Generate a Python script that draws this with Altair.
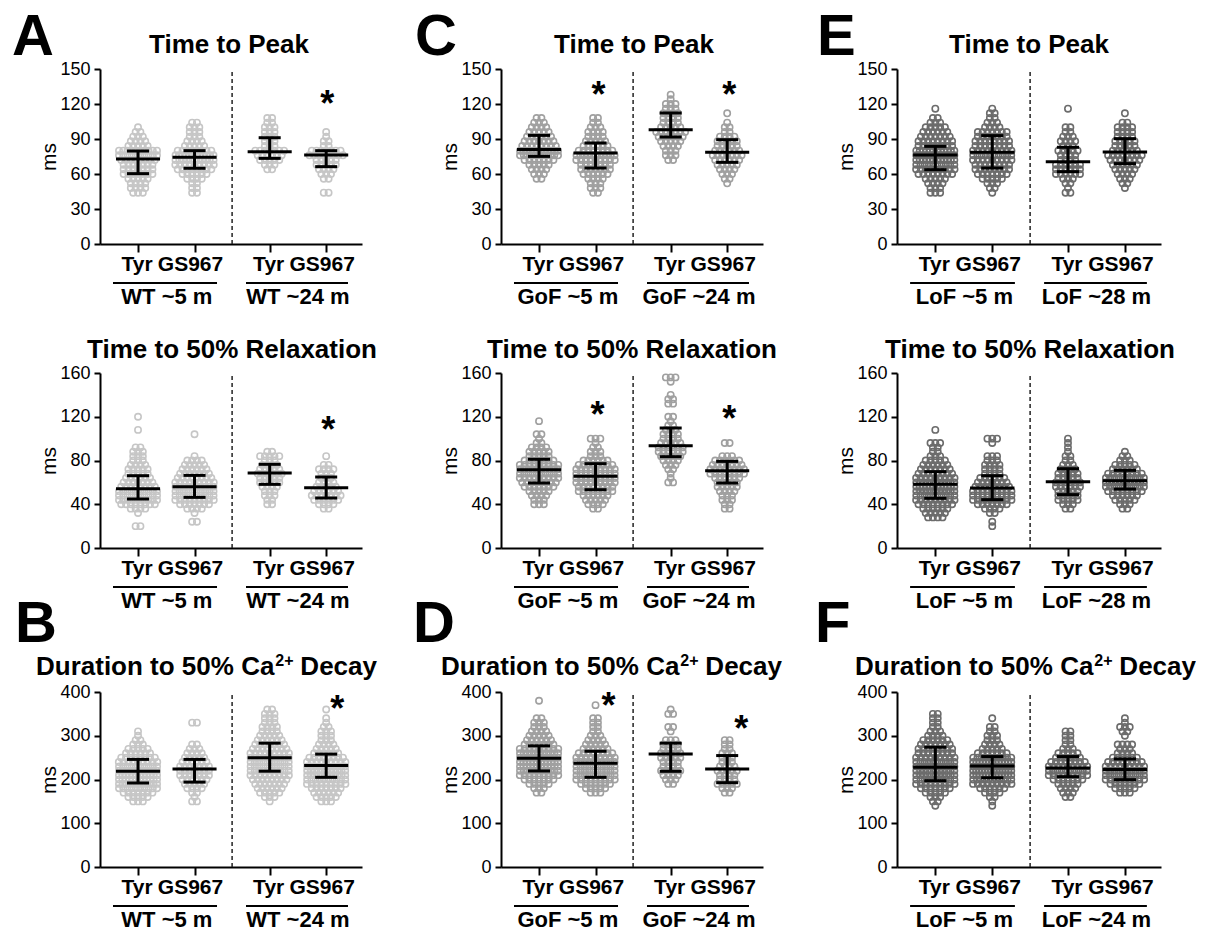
import altair as alt
import pandas as pd

FONT = "Liberation Sans"

# ---------------------------------------------------------------------------
# Data. Group order in every list: Tyr (young), GS967 (young), Tyr (old), GS967 (old).
# *_COUNTS: number of cells in each row of the dot plot; rows are spaced by the
# panel's step (4 ms for the twitch panels, 10 ms for Ca2+ decay) and the first
# row of each group sits at the matching *_START value.
# *_MED / *_Q1 / *_Q3: median and interquartile range drawn as error bars.
# ---------------------------------------------------------------------------

# WT, Time to Peak
WT_TTP_START = [44, 44, 64, 44]
WT_TTP_COUNTS = [
    [3, 4, 4, 5, 7, 7, 7, 8, 10, 10, 5, 4, 3, 2, 1],
    [2, 2, 2, 4, 6, 8, 9, 11, 12, 8, 5, 4, 3, 3, 3, 2],
    [2, 3, 5, 6, 7, 3, 3, 3, 3, 3, 2, 2],
    [2, 0, 0, 2, 3, 4, 5, 5, 8, 7, 2, 2, 1, 1],
]
WT_TTP_MED = [72.9, 74.3, 79.1, 76.3]
WT_TTP_Q1 = [60.3, 64.9, 73.4, 66.3]
WT_TTP_Q3 = [79.7, 80.0, 91.1, 80.0]
WT_TTP_STAR_GROUP = [3]
WT_TTP_STAR_AT = [126]

# WT, Time to 50% Relaxation
WT_RLX_START = [20, 24, 40, 36]
WT_RLX_COUNTS = [
    [2, 0, 0, 1, 4, 8, 10, 10, 10, 8, 7, 6, 5, 5, 4, 3, 3, 3, 2, 0, 0, 0, 1, 0, 0, 1],
    [2, 0, 1, 4, 7, 9, 10, 10, 10, 9, 8, 7, 6, 5, 4, 1, 0, 0, 0, 0, 1],
    [2, 2, 3, 3, 4, 5, 5, 6, 5, 4, 3, 5, 2],
    [2, 4, 6, 7, 6, 5, 4, 3, 3, 4, 2, 0, 1],
]
WT_RLX_MED = [54.2, 56.1, 68.6, 55.2]
WT_RLX_Q1 = [44.8, 46.3, 58.2, 45.7]
WT_RLX_Q3 = [66.1, 66.4, 76.5, 64.9]
WT_RLX_STAR_GROUP = [3]
WT_RLX_STAR_AT = [114]

# WT, Duration to 50% Ca2+ decay
WT_CA_START = [150, 150, 150, 150]
WT_CA_COUNTS = [
    [3, 5, 7, 10, 11, 12, 12, 11, 10, 9, 8, 6, 5, 3, 2, 1, 1],
    [2, 1, 2, 4, 5, 6, 7, 7, 7, 6, 5, 4, 3, 2, 0, 0, 0, 0, 2],
    [1, 3, 5, 6, 7, 8, 9, 10, 10, 10, 10, 9, 8, 7, 6, 5, 4, 4, 3, 3, 3, 2],
    [3, 5, 6, 7, 9, 10, 11, 11, 10, 9, 8, 6, 5, 4, 3, 3, 3, 2, 1, 1, 0, 1],
]
WT_CA_MED = [219, 224, 250, 232]
WT_CA_Q1 = [192, 194, 219, 205]
WT_CA_Q3 = [246, 246, 283, 258]
WT_CA_STAR_GROUP = [3]
WT_CA_STAR_AT = [377]

# GoF, Time to Peak
GOF_TTP_START = [56, 44, 72, 52]
GOF_TTP_COUNTS = [
    [2, 3, 4, 5, 7, 11, 12, 8, 7, 6, 5, 4, 3, 2],
    [2, 3, 3, 4, 6, 7, 7, 9, 11, 8, 6, 5, 4, 4, 3, 2, 2],
    [2, 3, 3, 4, 5, 6, 7, 5, 4, 4, 4, 3, 3, 1, 1],
    [1, 2, 3, 4, 5, 6, 7, 6, 5, 5, 4, 2, 2, 1, 0, 1],
]
GOF_TTP_MED = [80.9, 78.0, 98.0, 78.6]
GOF_TTP_Q1 = [75.1, 65.1, 91.7, 70.0]
GOF_TTP_Q3 = [93.1, 86.6, 112.3, 89.4]
GOF_TTP_STAR_GROUP = [1, 3]
GOF_TTP_STAR_AT = [134, 134]

# GoF, Time to 50% Relaxation
GOF_RLX_START = [40, 36, 60, 36]
GOF_RLX_COUNTS = [
    [3, 3, 4, 5, 7, 8, 9, 10, 10, 9, 7, 5, 5, 4, 2, 1, 2, 0, 0, 1],
    [2, 4, 5, 6, 8, 8, 9, 9, 9, 9, 8, 6, 3, 3, 2, 1, 3],
    [2, 1, 1, 2, 3, 4, 5, 6, 6, 5, 4, 4, 3, 2, 1, 2, 0, 0, 2, 2, 1, 0, 0, 1, 3],
    [2, 2, 3, 3, 4, 5, 5, 6, 8, 8, 7, 6, 3, 0, 0, 2],
]
GOF_RLX_MED = [71.6, 65.5, 93.6, 70.7]
GOF_RLX_Q1 = [59.4, 53.3, 83.5, 59.4]
GOF_RLX_Q3 = [81.1, 77.1, 109.7, 79.2]
GOF_RLX_STAR_GROUP = [1, 3]
GOF_RLX_STAR_AT = [128, 124]

# GoF, Duration to 50% Ca2+ decay
GOF_CA_START = [170, 170, 190, 170]
GOF_CA_COUNTS = [
    [2, 3, 5, 7, 9, 11, 12, 12, 12, 11, 9, 7, 6, 5, 4, 3, 3, 2, 0, 0, 0, 1],
    [3, 5, 7, 9, 10, 10, 10, 10, 9, 8, 6, 5, 4, 3, 2, 2, 2, 2, 0, 0, 1],
    [2, 3, 4, 5, 4, 4, 5, 5, 4, 4, 3, 0, 1, 2, 0, 0, 2, 1],
    [2, 3, 5, 4, 4, 5, 4, 3, 3, 3, 2, 2, 2],
]
GOF_CA_MED = [248.6, 237.0, 258.5, 224.0]
GOF_CA_Q1 = [219.5, 205.0, 218.7, 192.7]
GOF_CA_Q3 = [277.0, 264.6, 283.0, 254.7]
GOF_CA_STAR_GROUP = [1, 3]
GOF_CA_STAR_AT = [384, 331]

# LoF, Time to Peak
LOF_TTP_START = [44, 44, 44, 48]
LOF_TTP_COUNTS = [
    [3, 3, 4, 5, 8, 9, 10, 12, 14, 12, 8, 8, 7, 6, 5, 3, 2, 0, 1],
    [1, 2, 3, 5, 7, 8, 8, 9, 10, 9, 8, 8, 7, 7, 4, 3, 2, 2, 1],
    [2, 1, 2, 3, 6, 6, 6, 4, 4, 5, 3, 4, 3, 2, 2, 0, 0, 0, 1],
    [1, 2, 3, 4, 5, 6, 7, 8, 6, 5, 5, 4, 4, 4, 2, 0, 1],
]
LOF_TTP_MED = [76.3, 78.6, 70.6, 78.9]
LOF_TTP_Q1 = [63.7, 65.1, 62.0, 68.9]
LOF_TTP_Q3 = [83.7, 92.9, 82.9, 90.3]

# LoF, Time to 50% Relaxation
LOF_RLX_START = [28, 20, 36, 36]
LOF_RLX_COUNTS = [
    [4, 5, 6, 8, 9, 10, 11, 12, 11, 9, 8, 7, 6, 5, 3, 2, 2, 3, 0, 0, 1],
    [1, 1, 0, 2, 4, 7, 9, 9, 9, 8, 7, 6, 4, 4, 4, 3, 3, 0, 0, 1, 3],
    [2, 3, 5, 5, 5, 6, 6, 5, 5, 4, 3, 2, 2, 1, 1, 1, 1],
    [2, 3, 5, 6, 8, 10, 11, 10, 8, 6, 5, 3, 2, 1],
]
LOF_RLX_MED = [58.2, 54.9, 60.6, 61.6]
LOF_RLX_Q1 = [45.4, 44.2, 48.8, 53.9]
LOF_RLX_Q3 = [69.8, 66.1, 72.5, 71.0]

# LoF, Duration to 50% Ca2+ decay
LOF_CA_START = [140, 140, 160, 170]
LOF_CA_COUNTS = [
    [1, 2, 3, 5, 7, 9, 10, 11, 11, 11, 10, 9, 8, 8, 7, 6, 4, 3, 2, 2, 2, 2],
    [1, 1, 2, 4, 6, 9, 11, 13, 14, 14, 13, 10, 7, 5, 4, 3, 3, 2, 2, 0, 1],
    [2, 3, 4, 5, 7, 9, 10, 9, 8, 6, 5, 3, 2, 2, 2, 2],
    [3, 5, 7, 9, 10, 10, 9, 8, 6, 4, 3, 4, 0, 1, 2, 3, 1, 1],
]
LOF_CA_MED = [228.0, 231.0, 226.4, 222.6]
LOF_CA_Q1 = [197.3, 204.0, 206.5, 199.6]
LOF_CA_Q3 = [273.8, 252.4, 252.4, 247.0]

TICK_TEXT = ["Tyr", "GS967", "Tyr", "GS967"]
COHORTS = [
    ["WT ~5 m", "WT ~24 m"],
    ["GoF ~5 m", "GoF ~24 m"],
    ["LoF ~5 m", "LoF ~28 m"],
]
COHORTS_CA_LOF = ["LoF ~5 m", "LoF ~24 m"]
ROW_TITLES = ["Time to Peak", "Time to 50% Relaxation"]
ROW_YMAX = [150, 160, 400]
ROW_TICKS = [[0, 30, 60, 90, 120, 150], [0, 40, 80, 120, 160], [0, 100, 200, 300, 400]]
ROW_STEP = [4, 4, 10]

# ---------------------------------------------------------------------------
# Layout (pixels inside each grid cell) and styling
# ---------------------------------------------------------------------------
GROUP_X = [1.0, 2.0, 3.33, 4.33]
X_DOMAIN = [0.327, 4.964]
SPLIT_X = 2.665
PAIR_MID = [1.51, 3.83]
PAIR_SPAN = [(0.557, 2.398), (2.911, 4.716)]
TICK_NUDGE = [-1, -4, -1, -4]

CELL_W, CELL_H = 262, 190
COL_AXIS_X = [0, 0, -5]
COL_AXIS_W = [262, 262, 264]
COL_YAXIS_OFFSET = [0, 0, 5]
ROW_AXIS_TOP = [30, 15, 15]
ROW_AXIS_BOTTOM = [205, 190, 190]
ROW_XAXIS_OFFSET = [15, 0, 0]
COL_DOT = ["#c6c6c6", "#a0a0a0", "#6c6c6c"]

TITLE_CENTER = [[129, 133, 132], [132, 131, 133]]
TITLE_BASE = [-16, -15, -17]
CA_TITLE_LEFT = [-64, -60, -42]
LETTERS = {(0, 0): ("A", -88), (0, 1): ("C", -86), (0, 2): ("E", -80),
           (2, 0): ("B", -85), (2, 1): ("D", -88), (2, 2): ("F", -82)}
LETTER_BASE = {0: -14, 2: -50}
STAR_NUDGE = {(0, 0): [1], (1, 0): [2], (2, 0): [11],
              (0, 1): [3, 2], (1, 1): [2, 2], (2, 1): [13, 14]}


def swarm(starts, counts, step, px_unit):
    recs = []
    for g, (s, cs) in enumerate(zip(starts, counts)):
        for i, n in enumerate(cs):
            gap = 4.8 if n <= 9 else 38.0 / (n - 1)
            for k in range(n):
                recs.append({"x": GROUP_X[g] + (k - (n - 1) / 2) * gap / px_unit,
                             "y": s + i * step})
    return pd.DataFrame(recs)


def text_at(txt, x, y, size, weight="bold", align="center", baseline="alphabetic"):
    return alt.Chart(pd.DataFrame({"t": [txt]})).mark_text(
        font=FONT, fontSize=size, fontWeight=weight, align=align,
        baseline=baseline, color="black"
    ).encode(x=alt.value(x), y=alt.value(y), text="t:N")


def panel(row, col, starts, counts, med, q1, q3, star_groups=(), star_at=()):
    ox = COL_AXIS_X[col]
    w = COL_AXIS_W[col]
    ytop, ybot = ROW_AXIS_TOP[row], ROW_AXIS_BOTTOM[row]
    px_unit = w / (X_DOMAIN[1] - X_DOMAIN[0])
    ymax = ROW_YMAX[row]

    xs = alt.Scale(domain=X_DOMAIN, range=[ox, ox + w], nice=False, zero=False)
    ys = alt.Scale(domain=[0, ymax], range=[ybot, ytop], nice=False, zero=False)
    xaxis = alt.Axis(values=GROUP_X, labels=False, title=None, grid=False,
                     tickSize=8, tickWidth=2, tickColor="black",
                     domainColor="black", domainWidth=2,
                     offset=ROW_XAXIS_OFFSET[row])
    yaxis = alt.Axis(values=ROW_TICKS[row], title="ms", grid=False,
                     titleFont=FONT, titleFontSize=21, titleFontWeight="normal",
                     titleColor="black", titlePadding=0,
                     labelFont=FONT, labelFontSize=18, labelColor="black",
                     labelPadding=4, tickSize=6, tickWidth=2, tickColor="black",
                     domainColor="black", domainWidth=2,
                     offset=COL_YAXIS_OFFSET[col])

    def X(f):
        return alt.X(f, type="quantitative", scale=xs, axis=xaxis)

    def Y(f):
        return alt.Y(f, type="quantitative", scale=ys, axis=yaxis)

    pts = alt.Chart(swarm(starts, counts, ROW_STEP[row], px_unit)).mark_point(
        shape="circle", filled=False, size=40, strokeWidth=1.6,
        color=COL_DOT[col], opacity=1
    ).encode(x=X("x"), y=Y("y"))

    summ = alt.Chart(pd.DataFrame({"x": GROUP_X, "med": med, "q1": q1, "q3": q3}))
    bar_style = dict(color="black", strokeWidth=3)
    whisk = summ.mark_rule(**bar_style).encode(x=X("x"), y=Y("q1"), y2="q3:Q")
    caps = summ.transform_calculate(a="datum.x - 0.195", b="datum.x + 0.195")
    cap_lo = caps.mark_rule(**bar_style).encode(x=X("a"), x2="b:Q", y=Y("q1"))
    cap_hi = caps.mark_rule(**bar_style).encode(x=X("a"), x2="b:Q", y=Y("q3"))
    mline = summ.transform_calculate(a="datum.x - 0.39", b="datum.x + 0.39").mark_rule(
        **bar_style).encode(x=X("a"), x2="b:Q", y=Y("med"))

    split = alt.Chart(pd.DataFrame({"x": [SPLIT_X], "y0": [0], "y1": [ymax]})).mark_rule(
        color="#222222", strokeWidth=1.5, strokeDash=[4, 3]
    ).encode(x=X("x"), y=Y("y0"), y2="y1:Q")

    ticks = alt.Chart(pd.DataFrame({
        "x": [gx + n / px_unit for gx, n in zip(GROUP_X, TICK_NUDGE)],
        "t": TICK_TEXT})).mark_text(
        font=FONT, fontSize=21, fontWeight="bold", baseline="middle", color="black"
    ).encode(x=X("x"), y=alt.value(ybot + 21), text="t:N")

    cohorts = COHORTS[col] if not (row == 2 and col == 2) else COHORTS_CA_LOF
    under = alt.Chart(pd.DataFrame({"a": [p[0] for p in PAIR_SPAN],
                                    "b": [p[1] for p in PAIR_SPAN]})).mark_rule(
        color="black", strokeWidth=2).encode(x=X("a"), x2="b:Q", y=alt.value(ybot + 39))
    coh = alt.Chart(pd.DataFrame({"x": PAIR_MID, "t": cohorts})).mark_text(
        font=FONT, fontSize=22, fontWeight="bold", baseline="middle", color="black"
    ).encode(x=X("x"), y=alt.value(ybot + 53), text="t:N")

    layers = [pts, whisk, cap_lo, cap_hi, mline, split, ticks, under, coh]

    if star_groups:
        nudge = STAR_NUDGE[(row, col)]
        stars = alt.Chart(pd.DataFrame({
            "x": [GROUP_X[g] + n / px_unit for g, n in zip(star_groups, nudge)],
            "y": list(star_at)})).mark_text(
            text="*", font=FONT, fontSize=36, fontWeight="bold",
            baseline="alphabetic", dy=19, color="black"
        ).encode(x=X("x"), y=Y("y"))
        layers.append(stars)

    tb = ytop + TITLE_BASE[row]
    if row < 2:
        layers.append(text_at(ROW_TITLES[row], ox + TITLE_CENTER[row][col], tb, 26))
    else:
        left = ox + CA_TITLE_LEFT[col]
        main_w = 9.168 * 26
        layers.append(text_at("Duration to 50% Ca", left, tb, 26, align="left"))
        layers.append(text_at("2+", left + main_w + 1, tb - 9, 16, align="left"))
        layers.append(text_at("Decay", left + main_w + 1 + 18 + 7, tb, 26, align="left"))

    if (row, col) in LETTERS:
        letter, lx = LETTERS[(row, col)]
        layers.append(text_at(letter, ox + lx, ytop + LETTER_BASE[row], 58, align="left"))

    if row == 0 and col == 0:
        anchor = alt.Chart(pd.DataFrame({"k": [0]})).mark_rule(opacity=0).encode(
            x=alt.value(-100), x2=alt.value(-100), y=alt.value(-39), y2=alt.value(-39))
        layers.append(anchor)

    return alt.layer(*layers).properties(width=CELL_W, height=CELL_H)


panels = [
    panel(0, 0, WT_TTP_START, WT_TTP_COUNTS, WT_TTP_MED, WT_TTP_Q1, WT_TTP_Q3,
          WT_TTP_STAR_GROUP, WT_TTP_STAR_AT),
    panel(0, 1, GOF_TTP_START, GOF_TTP_COUNTS, GOF_TTP_MED, GOF_TTP_Q1, GOF_TTP_Q3,
          GOF_TTP_STAR_GROUP, GOF_TTP_STAR_AT),
    panel(0, 2, LOF_TTP_START, LOF_TTP_COUNTS, LOF_TTP_MED, LOF_TTP_Q1, LOF_TTP_Q3),
    panel(1, 0, WT_RLX_START, WT_RLX_COUNTS, WT_RLX_MED, WT_RLX_Q1, WT_RLX_Q3,
          WT_RLX_STAR_GROUP, WT_RLX_STAR_AT),
    panel(1, 1, GOF_RLX_START, GOF_RLX_COUNTS, GOF_RLX_MED, GOF_RLX_Q1, GOF_RLX_Q3,
          GOF_RLX_STAR_GROUP, GOF_RLX_STAR_AT),
    panel(1, 2, LOF_RLX_START, LOF_RLX_COUNTS, LOF_RLX_MED, LOF_RLX_Q1, LOF_RLX_Q3),
    panel(2, 0, WT_CA_START, WT_CA_COUNTS, WT_CA_MED, WT_CA_Q1, WT_CA_Q3,
          WT_CA_STAR_GROUP, WT_CA_STAR_AT),
    panel(2, 1, GOF_CA_START, GOF_CA_COUNTS, GOF_CA_MED, GOF_CA_Q1, GOF_CA_Q3,
          GOF_CA_STAR_GROUP, GOF_CA_STAR_AT),
    panel(2, 2, LOF_CA_START, LOF_CA_COUNTS, LOF_CA_MED, LOF_CA_Q1, LOF_CA_Q3),
]

chart = alt.concat(
    *panels, columns=3, spacing={"row": 129, "column": 139}, bounds="flush"
).properties(
    padding=0, background="white"
).configure_view(stroke=None)

chart.save("out.html", embed_options={"renderer": "svg", "actions": False})
